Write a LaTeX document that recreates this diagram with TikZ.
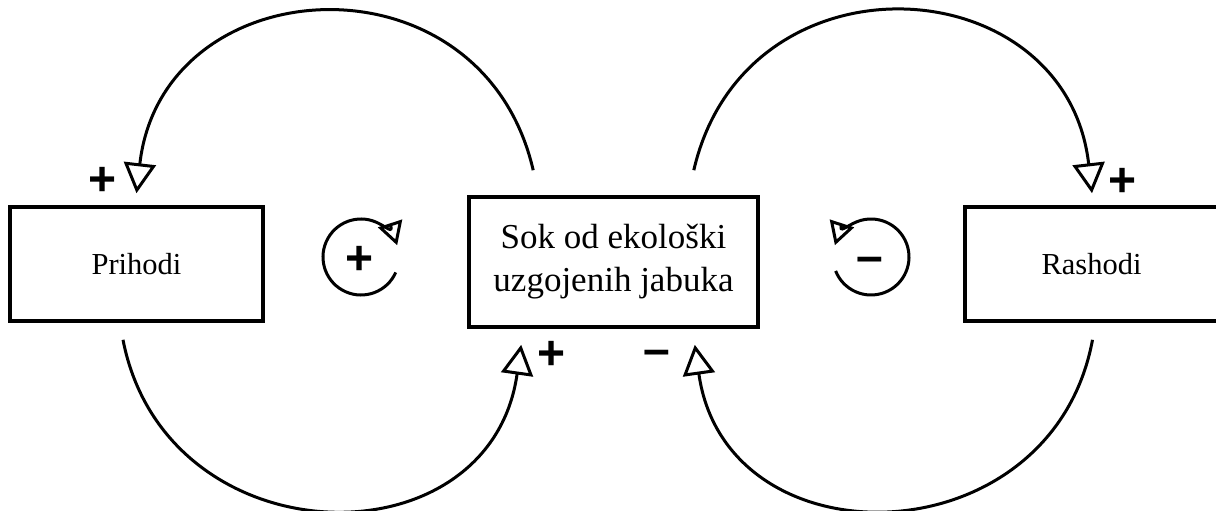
\documentclass[tikz,border=0pt]{standalone}
\usepackage{fontspec}
\setmainfont{Liberation Serif}
\newfontfamily\signfont{Liberation Sans}
\usetikzlibrary{arrows.meta}

\begin{document}
\begin{tikzpicture}[x=0.5pt, y=0.5pt,
  box/.style={draw, line width=1.8pt, inner sep=0pt},
  link/.style={line width=1.5pt, -{Triangle[open, length=15pt, width=16pt]}},
  loopline/.style={line width=1.5pt, -{Triangle[open, length=11.5pt, width=12.5pt]}},
  sign/.style={inner sep=0pt, font=\signfont\bfseries\fontsize{24}{24}\selectfont}]
\useasboundingbox (0,0) rectangle (1216,510);
\node [box, minimum width=126.5pt, minimum height=57pt, font=\fontsize{15.25}{18}\selectfont] (prihodi) at (136.5,246) {Prihodi};
\node [box, minimum width=144.5pt, minimum height=65pt, align=center, font=\fontsize{17.5}{21.5}\selectfont] (sok) at (613.5,248) {Sok od ekološki\\uzgojenih jabuka};
\node [box, minimum width=126.5pt, minimum height=57pt, font=\fontsize{15.25}{18}\selectfont] (rashodi) at (1091.5,246) {Rashodi};
\draw [link] ([xshift=33pt, yshift=12.5pt]sok.north west) to [out=103, in=83.5, looseness=1.47] ([yshift=6pt]prihodi.north);
\draw [link] ([xshift=-33pt, yshift=12.5pt]sok.north east) to [out=77, in=96.5, looseness=1.47] ([xshift=0.25pt, yshift=6pt]rashodi.north);
\draw [link] ([xshift=-6.75pt, yshift=-8.5pt]prihodi.south) to [out=281, in=262, looseness=1.44] ([xshift=27pt, yshift=-8pt]sok.south west);
\draw [link] ([xshift=0.5pt, yshift=-8.5pt]rashodi.south) to [out=259.5, in=278, looseness=1.44] ([xshift=-32.5pt, yshift=-8pt]sok.south east);
\node [sign] (plusA) at (103,329) {+};
\node [sign] (plusB) at (1123,328) {+};
\node [sign] (plusC) at (552,155) {+};
\node [sign] (minusC) at (657,152) {–};
\coordinate (loopR) at (361,253);
\coordinate (loopB) at (871,253);
\node [sign] (plusR) at (360,250) {+};
\node [sign] (minusB) at (870,245) {–};
\draw [loopline] (loopR) ++(336:38) arc (336:18:38);
\draw [loopline] (loopB) ++(-158.5:38) arc (-158.5:162:38);
\end{tikzpicture}
\end{document}
